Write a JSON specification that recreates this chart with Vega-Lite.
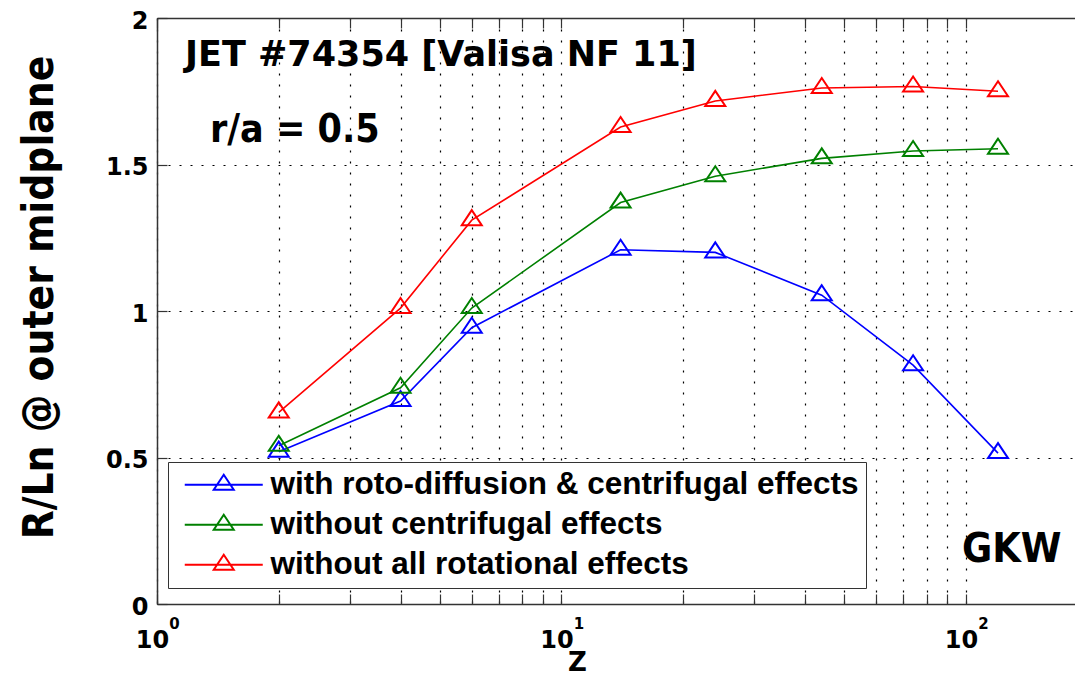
{
  "$schema": "https://vega.github.io/schema/vega-lite/v6.json",
  "width": 918,
  "height": 586,
  "autosize": {"type": "none"},
  "padding": {"left": 157, "top": 18, "right": 0, "bottom": 71},
  "background": "white",
  "config": {
    "view": {"stroke": null},
    "axis": {
      "domainColor": "#333333",
      "domainWidth": 1.5,
      "tickColor": "#333333",
      "tickWidth": 1.2,
      "gridColor": "#000000",
      "gridDash": [2, 9],
      "gridWidth": 1.2,
      "gridOpacity": 1,
      "labelColor": "#000000",
      "titleColor": "#000000"
    }
  },
  "datasets": {
    "profiles": [
      {"Z": 2, "RLn": 0.52, "case": "with roto-diffusion & centrifugal effects"},
      {"Z": 4, "RLn": 0.693, "case": "with roto-diffusion & centrifugal effects"},
      {"Z": 6, "RLn": 0.943, "case": "with roto-diffusion & centrifugal effects"},
      {"Z": 14, "RLn": 1.209, "case": "with roto-diffusion & centrifugal effects"},
      {"Z": 24, "RLn": 1.2, "case": "with roto-diffusion & centrifugal effects"},
      {"Z": 44, "RLn": 1.054, "case": "with roto-diffusion & centrifugal effects"},
      {"Z": 74, "RLn": 0.815, "case": "with roto-diffusion & centrifugal effects"},
      {"Z": 120, "RLn": 0.515, "case": "with roto-diffusion & centrifugal effects"},
      {"Z": 2, "RLn": 0.54, "case": "without centrifugal effects"},
      {"Z": 4, "RLn": 0.738, "case": "without centrifugal effects"},
      {"Z": 6, "RLn": 1.01, "case": "without centrifugal effects"},
      {"Z": 14, "RLn": 1.37, "case": "without centrifugal effects"},
      {"Z": 24, "RLn": 1.46, "case": "without centrifugal effects"},
      {"Z": 44, "RLn": 1.521, "case": "without centrifugal effects"},
      {"Z": 74, "RLn": 1.546, "case": "without centrifugal effects"},
      {"Z": 120, "RLn": 1.554, "case": "without centrifugal effects"},
      {"Z": 2, "RLn": 0.654, "case": "without all rotational effects"},
      {"Z": 4, "RLn": 1.01, "case": "without all rotational effects"},
      {"Z": 6, "RLn": 1.31, "case": "without all rotational effects"},
      {"Z": 14, "RLn": 1.628, "case": "without all rotational effects"},
      {"Z": 24, "RLn": 1.717, "case": "without all rotational effects"},
      {"Z": 44, "RLn": 1.761, "case": "without all rotational effects"},
      {"Z": 74, "RLn": 1.766, "case": "without all rotational effects"},
      {"Z": 120, "RLn": 1.75, "case": "without all rotational effects"}
    ]
  },
  "layer": [
    {
      "data": {"name": "profiles"},
      "mark": {"type": "line", "strokeWidth": 1.6},
      "encoding": {
        "x": {
          "field": "Z",
          "type": "quantitative",
          "scale": {"type": "log", "domain": [1, 186], "nice": false},
          "axis": {
            "orient": "bottom",
            "values": [1, 2, 3, 4, 5, 6, 7, 8, 9, 10, 20, 30, 40, 50, 60, 70, 80, 90, 100],
            "labelExpr": "datum.value == 1 || datum.value == 10 || datum.value == 100 ? '10' : ''",
            "grid": true,
            "ticks": true,
            "tickSize": -10,
            "labelFont": "DejaVu Sans",
            "labelFontWeight": "bold",
            "labelFontSize": 24,
            "labelBaseline": "alphabetic",
            "labelPadding": 53,
            "labelOffset": -5,
            "labelFlush": false,
            "labelOverlap": false,
            "title": "Z",
            "titleFont": "DejaVu Sans",
            "titleFontWeight": "bold",
            "titleFontSize": 26,
            "titleX": 420,
            "titleY": 66,
            "titleBaseline": "alphabetic",
            "titleAlign": "center"
          }
        },
        "y": {
          "field": "RLn",
          "type": "quantitative",
          "scale": {"domain": [0, 2], "nice": false},
          "axis": {
            "values": [0, 0.5, 1, 1.5, 2],
            "format": ".1~f",
            "grid": true,
            "tickSize": -10,
            "labelFont": "DejaVu Sans",
            "labelFontWeight": "bold",
            "labelFontSize": 24,
            "labelPadding": 19,
            "labelOffset": 3,
            "labelBaseline": "middle",
            "title": "R/Ln @ outer midplane",
            "titleFont": "DejaVu Sans Condensed",
            "titleFontWeight": "bold",
            "titleFontSize": 42,
            "titleX": -105,
            "titleY": 279,
            "titleAngle": -90,
            "titleBaseline": "alphabetic",
            "titleAlign": "center"
          }
        },
        "color": {
          "field": "case",
          "type": "nominal",
          "scale": {
            "domain": ["with roto-diffusion & centrifugal effects", "without centrifugal effects", "without all rotational effects"],
            "range": ["#0000ff", "#008000", "#ff0000"]
          },
          "legend": {
            "title": null,
            "orient": "none",
            "legendX": 11,
            "legendY": 444,
            "direction": "vertical",
            "symbolType": "M-3.9,0L3.9,0M0,-1L-1,0.5L1,0.5Z",
            "symbolSize": 400,
            "symbolStrokeWidth": 2,
            "symbolOffset": 33,
            "labelFont": "Liberation Sans",
            "labelFontWeight": "bold",
            "labelFontSize": 31.5,
            "labelColor": "#000000",
            "labelLimit": 900,
            "labelOffset": 31,
            "rowPadding": 7,
            "padding": 7,
            "strokeColor": "#333333",
            "fillColor": "white"
          }
        }
      }
    },
    {
      "data": {"name": "profiles"},
      "mark": {"type": "point", "shape": "M0,-1L-1,0.5L1,0.5Z", "size": 400, "filled": false, "strokeWidth": 2, "opacity": 1},
      "encoding": {
        "x": {
          "field": "Z",
          "type": "quantitative",
          "scale": {"type": "log", "domain": [1, 186], "nice": false},
          "axis": {
            "orient": "top",
            "values": [1, 2, 3, 4, 5, 6, 7, 8, 9, 10, 20, 30, 40, 50, 60, 70, 80, 90, 100],
            "labels": false,
            "grid": false,
            "ticks": true,
            "tickSize": -10,
            "domain": true,
            "title": null
          }
        },
        "y": {"field": "RLn", "type": "quantitative"},
        "color": {"field": "case", "type": "nominal"}
      }
    },
    {
      "data": {"values": [{}]},
      "mark": {"type": "text", "align": "left", "baseline": "alphabetic", "font": "DejaVu Sans", "fontWeight": "bold", "fontSize": 35, "color": "#000000", "text": "JET #74354 [Valisa NF 11]"},
      "encoding": {
        "x": {"datum": 1.173, "type": "quantitative", "axis": null},
        "y": {"datum": 1.835, "type": "quantitative"}
      }
    },
    {
      "data": {"values": [{}]},
      "mark": {"type": "text", "align": "left", "baseline": "alphabetic", "font": "DejaVu Sans Condensed", "fontWeight": "bold", "fontSize": 39, "color": "#000000", "text": "r/a = 0.5"},
      "encoding": {
        "x": {"datum": 1.352, "type": "quantitative", "axis": null},
        "y": {"datum": 1.578, "type": "quantitative"}
      }
    },
    {
      "data": {"values": [{}]},
      "mark": {"type": "text", "align": "left", "baseline": "alphabetic", "font": "DejaVu Sans Condensed", "fontWeight": "bold", "fontSize": 41, "color": "#000000", "text": "GKW"},
      "encoding": {
        "x": {
          "datum": 97.7,
          "type": "quantitative",
          "axis": {
            "orient": "bottom",
            "values": [1, 10, 100],
            "labelExpr": "datum.value == 1 ? '0' : datum.value == 10 ? '1' : '2'",
            "labelFont": "DejaVu Sans",
            "labelFontWeight": "bold",
            "labelFontSize": 15,
            "labelBaseline": "alphabetic",
            "labelPadding": 24,
            "labelOffset": 17,
            "labelFlush": false,
            "labelOverlap": false,
            "domain": false,
            "ticks": false,
            "grid": false,
            "title": null
          }
        },
        "y": {"datum": 0.1435, "type": "quantitative"}
      }
    }
  ],
  "resolve": {"axis": {"x": "independent"}}
}
